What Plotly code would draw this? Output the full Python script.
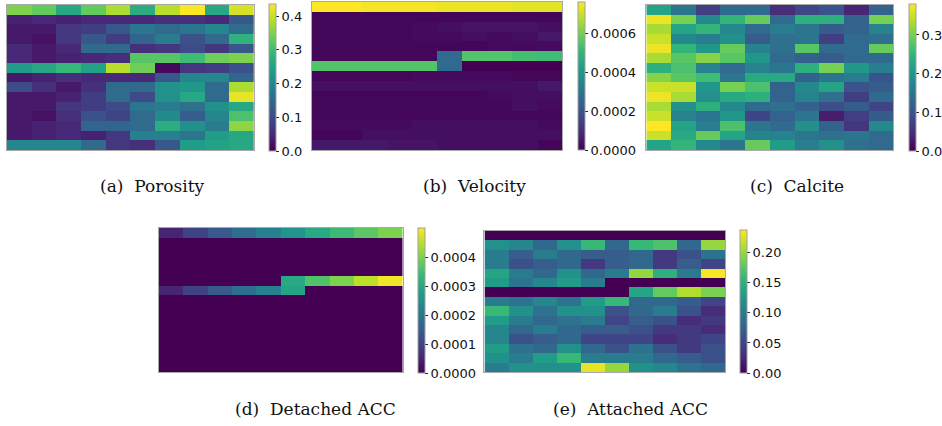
import plotly.graph_objects as go

# ---------------- data (rows top -> bottom, 15 x 10) ----------------
porosity = [
    [0.35, 0.33, 0.26, 0.33, 0.38, 0.27, 0.39, 0.435, 0.26, 0.41],
    [0.04, 0.05, 0.04, 0.05, 0.05, 0.05, 0.06, 0.06, 0.05, 0.12],
    [0.03, 0.03, 0.07, 0.08, 0.12, 0.17, 0.15, 0.17, 0.20, 0.15],
    [0.03, 0.02, 0.07, 0.12, 0.08, 0.14, 0.18, 0.11, 0.15, 0.28],
    [0.05, 0.03, 0.05, 0.15, 0.15, 0.06, 0.07, 0.10, 0.07, 0.12],
    [0.05, 0.03, 0.04, 0.05, 0.06, 0.32, 0.32, 0.30, 0.34, 0.35],
    [0.24, 0.26, 0.29, 0.25, 0.39, 0.34, 0.01, 0.07, 0.08, 0.11],
    [0.03, 0.04, 0.06, 0.05, 0.05, 0.05, 0.12, 0.20, 0.20, 0.14],
    [0.10, 0.06, 0.03, 0.06, 0.15, 0.15, 0.22, 0.23, 0.15, 0.38],
    [0.03, 0.03, 0.04, 0.08, 0.15, 0.10, 0.22, 0.26, 0.15, 0.42],
    [0.03, 0.03, 0.07, 0.08, 0.10, 0.17, 0.18, 0.16, 0.22, 0.26],
    [0.03, 0.02, 0.06, 0.11, 0.09, 0.15, 0.21, 0.13, 0.20, 0.31],
    [0.03, 0.04, 0.05, 0.14, 0.14, 0.15, 0.27, 0.22, 0.18, 0.36],
    [0.03, 0.04, 0.05, 0.04, 0.07, 0.19, 0.19, 0.17, 0.24, 0.26],
    [0.20, 0.20, 0.20, 0.15, 0.07, 0.06, 0.12, 0.24, 0.25, 0.26],
]

velocity = [
    [7.6e-4, 7.6e-4, 7.5e-4, 7.5e-4, 7.5e-4, 7.4e-4, 7.4e-4, 7.4e-4, 7.3e-4, 7.3e-4],
    [1e-5, 1e-5, 1e-5, 1e-5, 1e-5, 1e-5, 1e-5, 1e-5, 1e-5, 1e-5],
    [1e-5, 1e-5, 1e-5, 1e-5, 2e-5, 3e-5, 4e-5, 4e-5, 4e-5, 3e-5],
    [1e-5, 1e-5, 1e-5, 1e-5, 2e-5, 2e-5, 3e-5, 2e-5, 3e-5, 5e-5],
    [1e-5, 1e-5, 1e-5, 1e-5, 1e-5, 1e-5, 1e-5, 2e-5, 2e-5, 2e-5],
    [1e-5, 1e-5, 1e-5, 1e-5, 1e-5, 2.6e-4, 5.5e-4, 5.5e-4, 5.3e-4, 5.2e-4],
    [5.5e-4, 5.5e-4, 5.5e-4, 5.5e-4, 5.5e-4, 2.6e-4, 0.0, 0.0, 0.0, 0.0],
    [1e-5, 1e-5, 1e-5, 1e-5, 2e-5, 2e-5, 2e-5, 2e-5, 1e-5, 1e-5],
    [3e-5, 3e-5, 3e-5, 3e-5, 3e-5, 3e-5, 3e-5, 3e-5, 3e-5, 5e-5],
    [1e-5, 1e-5, 1e-5, 1e-5, 1e-5, 1e-5, 1e-5, 2e-5, 3e-5, 3e-5],
    [1e-5, 1e-5, 1e-5, 1e-5, 1e-5, 1e-5, 1e-5, 1e-5, 3e-5, 2e-5],
    [1e-5, 1e-5, 1e-5, 1e-5, 1e-5, 1e-5, 1e-5, 1e-5, 1e-5, 1e-5],
    [2e-5, 2e-5, 2e-5, 2e-5, 3e-5, 3e-5, 3e-5, 3e-5, 3e-5, 2e-5],
    [1e-5, 1e-5, 3e-5, 3e-5, 3e-5, 3e-5, 3e-5, 3e-5, 3e-5, 3e-5],
    [5e-5, 5e-5, 5e-5, 4e-5, 4e-5, 3e-5, 3e-5, 3e-5, 3e-5, 1e-5],
]

calcite = [
    [0.22, 0.15, 0.07, 0.13, 0.13, 0.05, 0.08, 0.10, 0.04, 0.12],
    [0.37, 0.30, 0.18, 0.25, 0.29, 0.13, 0.24, 0.24, 0.12, 0.30],
    [0.33, 0.22, 0.25, 0.18, 0.13, 0.16, 0.15, 0.11, 0.12, 0.17],
    [0.35, 0.18, 0.16, 0.19, 0.11, 0.14, 0.15, 0.07, 0.13, 0.14],
    [0.37, 0.25, 0.20, 0.29, 0.17, 0.14, 0.28, 0.13, 0.13, 0.29],
    [0.33, 0.28, 0.31, 0.28, 0.20, 0.13, 0.12, 0.11, 0.13, 0.13],
    [0.24, 0.27, 0.17, 0.13, 0.17, 0.15, 0.24, 0.30, 0.20, 0.16],
    [0.31, 0.28, 0.26, 0.15, 0.23, 0.23, 0.12, 0.15, 0.16, 0.10],
    [0.35, 0.35, 0.20, 0.30, 0.27, 0.12, 0.18, 0.22, 0.10, 0.11],
    [0.37, 0.33, 0.19, 0.23, 0.24, 0.12, 0.17, 0.14, 0.07, 0.13],
    [0.33, 0.19, 0.24, 0.18, 0.13, 0.14, 0.12, 0.09, 0.11, 0.08],
    [0.35, 0.17, 0.15, 0.20, 0.08, 0.12, 0.15, 0.03, 0.07, 0.11],
    [0.38, 0.22, 0.16, 0.27, 0.15, 0.13, 0.19, 0.12, 0.06, 0.18],
    [0.35, 0.23, 0.29, 0.22, 0.17, 0.17, 0.15, 0.14, 0.15, 0.13],
    [0.22, 0.25, 0.18, 0.15, 0.29, 0.21, 0.16, 0.19, 0.14, 0.13],
]

detached_acc = [
    [5e-5, 1e-4, 1.4e-4, 1.8e-4, 2.2e-4, 2.6e-4, 3.0e-4, 3.4e-4, 3.7e-4, 4.0e-4],
    [0, 0, 0, 0, 0, 0, 0, 0, 0, 0],
    [0, 0, 0, 0, 0, 0, 0, 0, 0, 0],
    [0, 0, 0, 0, 0, 0, 0, 0, 0, 0],
    [0, 0, 0, 0, 0, 0, 0, 0, 0, 0],
    [0, 0, 0, 0, 0, 3.0e-4, 3.6e-4, 4.0e-4, 4.5e-4, 4.9e-4],
    [5e-5, 1e-4, 1.4e-4, 1.8e-4, 2.2e-4, 2.9e-4, 0, 0, 0, 0],
    [0, 0, 0, 0, 0, 0, 0, 0, 0, 0],
    [0, 0, 0, 0, 0, 0, 0, 0, 0, 0],
    [0, 0, 0, 0, 0, 0, 0, 0, 0, 0],
    [0, 0, 0, 0, 0, 0, 0, 0, 0, 0],
    [0, 0, 0, 0, 0, 0, 0, 0, 0, 0],
    [0, 0, 0, 0, 0, 0, 0, 0, 0, 0],
    [0, 0, 0, 0, 0, 0, 0, 0, 0, 0],
    [0, 0, 0, 0, 0, 0, 0, 0, 0, 0],
]

attached_acc = [
    [0, 0, 0, 0, 0, 0, 0, 0, 0, 0],
    [0.12, 0.11, 0.08, 0.12, 0.16, 0.08, 0.16, 0.17, 0.08, 0.20],
    [0.10, 0.07, 0.10, 0.08, 0.07, 0.07, 0.08, 0.04, 0.06, 0.09],
    [0.10, 0.06, 0.07, 0.08, 0.04, 0.07, 0.08, 0.04, 0.07, 0.05],
    [0.14, 0.10, 0.08, 0.12, 0.08, 0.10, 0.20, 0.15, 0.10, 0.235],
    [0.13, 0.09, 0.11, 0.13, 0.10, 0, 0, 0, 0, 0],
    [0, 0, 0, 0, 0, 0, 0.14, 0.18, 0.21, 0.19],
    [0.10, 0.09, 0.11, 0.09, 0.13, 0.16, 0.08, 0.08, 0.07, 0.05],
    [0.16, 0.12, 0.09, 0.12, 0.12, 0.06, 0.08, 0.10, 0.06, 0.03],
    [0.13, 0.10, 0.08, 0.09, 0.10, 0.05, 0.07, 0.06, 0.03, 0.04],
    [0.11, 0.08, 0.10, 0.08, 0.07, 0.07, 0.06, 0.04, 0.04, 0.03],
    [0.11, 0.06, 0.07, 0.08, 0.05, 0.05, 0.05, 0.03, 0.04, 0.05],
    [0.13, 0.09, 0.08, 0.12, 0.08, 0.06, 0.09, 0.06, 0.04, 0.06],
    [0.12, 0.10, 0.13, 0.16, 0.10, 0.10, 0.10, 0.08, 0.07, 0.06],
    [0.10, 0.12, 0.12, 0.12, 0.23, 0.20, 0.12, 0.11, 0.09, 0.08],
]

captions = ["(a)  Porosity", "(b)  Velocity", "(c)  Calcite",
            "(d)  Detached ACC", "(e)  Attached ACC"]
zmaxes = [0.436, 0.00076, 0.38, 0.0005, 0.238]
tickvals_list = [
    [0.0, 0.1, 0.2, 0.3, 0.4],
    [0.0, 0.0002, 0.0004, 0.0006],
    [0.0, 0.1, 0.2, 0.3],
    [0.0, 0.0001, 0.0002, 0.0003, 0.0004],
    [0.0, 0.05, 0.10, 0.15, 0.20],
]
ticktext_list = [
    ["0.0", "0.1", "0.2", "0.3", "0.4"],
    ["0.0000", "0.0002", "0.0004", "0.0006"],
    ["0.0", "0.1", "0.2", "0.3"],
    ["0.0000", "0.0001", "0.0002", "0.0003", "0.0004"],
    ["0.00", "0.05", "0.10", "0.15", "0.20"],
]
datasets = [porosity, velocity, calcite, detached_acc, attached_acc]

# ---------------- layout geometry (pixels) ----------------
W, H = 942, 426
# heatmap boxes: x0, x1, y0(top), y1(bottom)
boxes = [(7, 254, 5, 150), (312, 563, 2, 150), (647, 894, 5, 150),
         (159, 403, 228, 372), (485, 726, 231, 372)]
# colorbars: x0, top, bottom
cbars = [(269, 4, 151), (578, 2, 150), (909, 4, 151),
         (418, 228, 373), (740, 230, 373)]
cap_pos = [(153, 186), (475, 186), (798, 186), (316, 409), (631, 409)]

fig = go.Figure()
layout = dict(width=W, height=H, margin=dict(l=0, r=0, t=0, b=0),
              paper_bgcolor="white", plot_bgcolor="white", annotations=[])

for i, (z, box, cb) in enumerate(zip(datasets, boxes, cbars)):
    ax = "" if i == 0 else str(i + 1)
    x0, x1, yt, yb = box
    cx, ct, cbot = cb
    fig.add_trace(go.Heatmap(
        z=z, zmin=0, zmax=zmaxes[i], colorscale="Viridis",
        xaxis="x" + ax, yaxis="y" + ax, hoverinfo="skip",
        colorbar=dict(
            x=cx / W, xanchor="left", y=1 - ct / H, yanchor="top",
            len=(cbot - ct) / H, lenmode="fraction", thickness=7,
            xpad=0, ypad=0, outlinewidth=1, outlinecolor="#a0a0a0",
            tickvals=tickvals_list[i], ticktext=ticktext_list[i],
            ticks="outside", ticklen=3, tickwidth=1, tickcolor="#222",
            tickfont=dict(family="DejaVu Sans", size=13, color="#111"),
        ),
    ))
    layout["xaxis" + ax] = dict(domain=[x0 / W, x1 / W], showticklabels=False,
                                ticks="", showgrid=False, zeroline=False,
                                showline=True, mirror=True, linecolor="#a8a8a8",
                                linewidth=1, anchor="y" + ax)
    layout["yaxis" + ax] = dict(domain=[1 - yb / H, 1 - yt / H], showticklabels=False,
                                ticks="", showgrid=False, zeroline=False,
                                showline=True, mirror=True, linecolor="#a8a8a8",
                                linewidth=1, autorange="reversed", anchor="x" + ax)
    px, py = cap_pos[i]
    layout["annotations"].append(dict(
        text=captions[i], x=px / W, y=1 - py / H, xref="paper", yref="paper",
        xanchor="center", yanchor="middle", showarrow=False,
        font=dict(family="DejaVu Serif", size=17, color="#111")))

fig.update_layout(**layout)
fig.write_html("out.html", config={"displayModeBar": False},
               post_script="document.body.style.margin='0px';document.body.style.overflow='hidden';")
